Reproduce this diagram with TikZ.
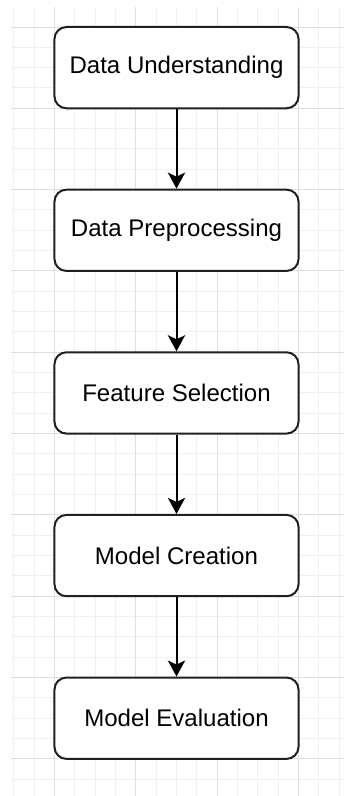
\documentclass[tikz,border=0pt]{standalone}
\usepackage{fontspec}
\setmainfont{Liberation Sans}
\usepackage{tikz}
\usetikzlibrary{positioning}
\usetikzlibrary{arrows.meta}
\definecolor{minorline}{HTML}{F0F0F0}
\definecolor{majorline}{HTML}{DEDEDE}
\definecolor{boxline}{HTML}{202020}
\tikzset{
  stage/.style={draw=boxline, line width=0.05cm, rounded corners=0.3cm, fill=white,
    minimum width=6.1cm, minimum height=2.0325cm, align=center,
    font=\fontsize{17.1}{20}\selectfont},
  flow/.style={draw=black, line width=0.05cm, -{Stealth[length=0.4cm, width=0.43cm, inset=0.1cm]}}
}

\begin{document}
\begin{tikzpicture}[x=0.025cm, y=-0.025cm, node distance=1.9825cm]
  \useasboundingbox (0,0) rectangle (344,796);
  % background grid
  \foreach \k in {-2,...,14}
    \draw[minorline, line width=0.025cm] ({54.5+20.33*\k},7) -- ({54.5+20.33*\k},796);
  \foreach \k in {0,...,37}
    \draw[minorline, line width=0.025cm] (11,{27+20.33*\k}) -- (344,{27+20.33*\k});
  \foreach \k in {0,...,3}
    \draw[majorline, line width=0.025cm] ({54.5+81.3*\k},7) -- ({54.5+81.3*\k},796);
  \foreach \k in {0,...,9}
    \draw[majorline, line width=0.025cm] (11,{27+81.3*\k}) -- (344,{27+81.3*\k});

  \node[stage] (understanding) at (176.5,67.65) {Data Understanding};
  \node[stage, below=of understanding] (preprocessing) {Data Preprocessing};
  \node[stage, below=of preprocessing] (selection) {Feature Selection};
  \node[stage, below=of selection] (creation) {Model Creation};
  \node[stage, below=of creation] (evaluation) {Model Evaluation};

  \draw[flow] (understanding) -- (preprocessing);
  \draw[flow] (preprocessing) -- (selection);
  \draw[flow] (selection) -- (creation);
  \draw[flow] (creation) -- (evaluation);
\end{tikzpicture}
\end{document}
